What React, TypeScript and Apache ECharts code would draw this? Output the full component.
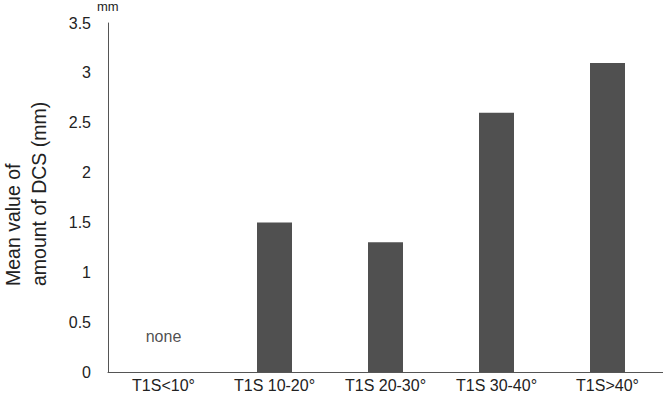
import React, { useEffect, useRef } from "react";
import * as echarts from "echarts";

const categories = ["T1S<10°", "T1S 10-20°", "T1S 20-30°", "T1S 30-40°", "T1S>40°"];
const values: (number | null)[] = [null, 1.5, 1.3, 2.6, 3.1];
const yTicks = [0, 0.5, 1, 1.5, 2, 2.5, 3, 3.5];
const noneLabel = { category: "T1S<10°", y: 0.36, text: "none" };
const yTitle = "Mean value of\namount of DCS (mm)";
const yUnit = "mm";

export default function App() {
  const ref = useRef<HTMLDivElement>(null);
  useEffect(() => {
    const chart = echarts.init(ref.current!, null, { renderer: "svg" });
    const font = "'Liberation Sans', Arial, sans-serif";
    chart.setOption({
      animation: false,
      textStyle: { fontFamily: font },
      grid: { left: 108, right: 0, top: 23, bottom: 33, containLabel: false, outerBoundsMode: "none" },
      xAxis: {
        type: "category",
        data: categories,
        axisLine: { lineStyle: { color: "#555", width: 1 } },
        axisTick: { show: false },
        axisLabel: { color: "#222", fontSize: 16, margin: 5, fontFamily: font },
      },
      yAxis: {
        type: "value",
        min: yTicks[0],
        max: yTicks[yTicks.length - 1],
        interval: 0.5,
        axisLine: { show: true, lineStyle: { color: "#555", width: 1 } },
        axisTick: { show: false },
        splitLine: { show: false },
        axisLabel: { color: "#222", fontSize: 16, margin: 17, fontFamily: font },
      },
      graphic: [
        { type: "text", left: 97, top: 0, style: { text: yUnit, fontSize: 13, fill: "#222", fontFamily: font } },
        {
          type: "text",
          x: 0,
          y: 286,
          rotation: Math.PI / 2,
          style: {
            text: yTitle,
            fontSize: 19.5,
            lineHeight: 26,
            fill: "#222",
            fontFamily: font,
            textAlign: "left",
            textVerticalAlign: "top",
          },
        },
      ],
      series: [
        {
          type: "bar",
          data: values,
          barWidth: 35,
          itemStyle: { color: "#505050" },
        },
        {
          type: "scatter",
          data: [[noneLabel.category, noneLabel.y]],
          symbolSize: 0,
          label: {
            show: true,
            position: "inside",
            formatter: noneLabel.text,
            fontSize: 16,
            color: "#222",
            fontFamily: font,
          },
        },
      ],
    });
    return () => chart.dispose();
  }, []);
  return <div ref={ref} style={{ width: 663, height: 405, position: "absolute", left: 0, top: 0, background: "#fff" }} />;
}
